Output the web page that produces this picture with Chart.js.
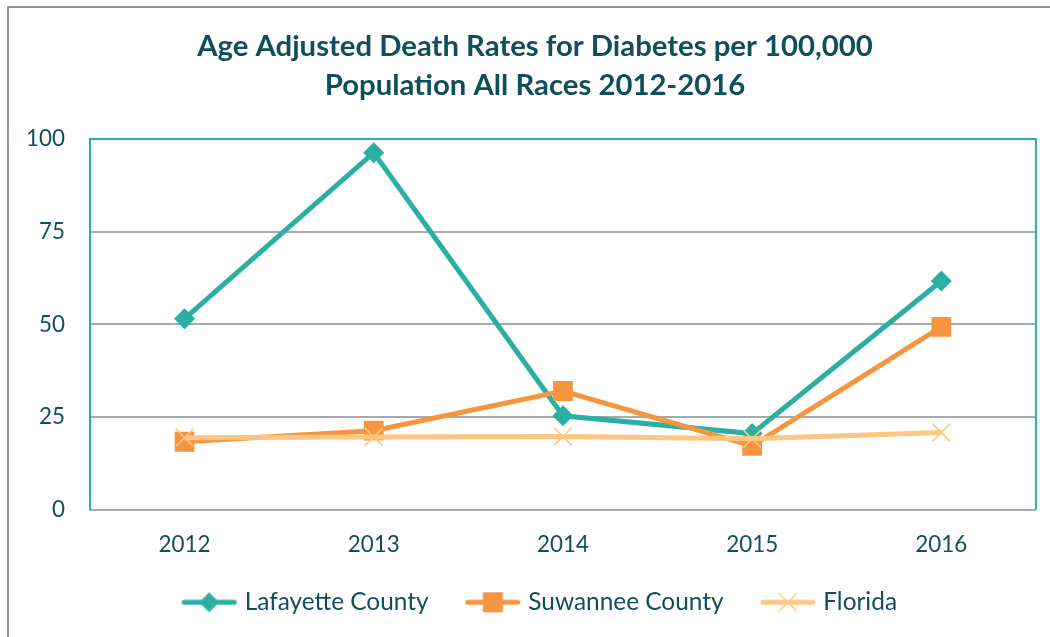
<!DOCTYPE html>
<html><head><meta charset="utf-8">
<script src="https://cdn.jsdelivr.net/npm/chart.js@4.4.0/dist/chart.umd.min.js"></script>
<style>
html,body{margin:0;padding:0;background:#fff;}
#wrap{position:relative;width:1050px;height:637px;overflow:hidden;background:#fff;}
#frame{position:absolute;left:7px;top:6px;width:1100px;height:700px;border:2px solid #87939a;box-sizing:border-box;}
canvas{position:absolute;left:0;top:0;}
</style></head><body>
<div id="wrap"><div id="frame"></div><canvas id="c" width="1050" height="637"></canvas></div>
<script>
// ---- data ----
const categories = ['2012', '2013', '2014', '2015', '2016'];
const lafayette = [51.5, 96.3, 25.3, 20.5, 61.7];
const suwannee = [18.3, 21.3, 32.0, 17.2, 49.3];
const florida = [19.4, 19.6, 19.7, 19.1, 20.8];
const seriesNames = ['Lafayette County', 'Suwannee County', 'Florida'];
const yTickValues = [0, 25, 50, 75, 100];
const titleLines = ['Age Adjusted Death Rates for Diabetes per 100,000', 'Population All Races 2012-2016'];

// ---- styles ----
const FONT = 'Lato';
const TEXT = '#0f4f5b';
const TEAL = '#2bafa2';
const ORANGE = '#f6953f';
const LIGHT = '#fdc682';
const GRID = '#a3abae';

const mctx = document.createElement('canvas').getContext('2d');
function fitSize(text, target, weight) {
  mctx.font = weight + ' 100px ' + FONT;
  return 100 * target / mctx.measureText(text).width;
}
const titleSize = fitSize(titleLines[0], 676, 'bold');
const tickSize = fitSize('2012', 52, 'normal');
const legendSize = fitSize(seriesNames[0], 184, 'normal');

// legend symbols (line + marker)
const B = 59.5;
const LP = 28;
function makeSymbol(color, style) {
  const W = Math.round(B + 16), H = 30;
  const cv = document.createElement('canvas');
  cv.width = W; cv.height = H;
  const c = cv.getContext('2d');
  const right = B + 5 + 8, left = right - 56, cy = H / 2, cx = (left + right) / 2;
  c.strokeStyle = color; c.lineWidth = 5; c.lineCap = 'round';
  c.beginPath(); c.moveTo(left + 3, cy); c.lineTo(right - 3, cy); c.stroke();
  c.fillStyle = color;
  if (style === 'diamond') {
    c.beginPath(); c.moveTo(cx, cy - 10); c.lineTo(cx + 10, cy); c.lineTo(cx, cy + 10); c.lineTo(cx - 10, cy); c.closePath(); c.fill();
  } else if (style === 'square') {
    c.fillRect(cx - 10, cy - 10, 20, 20);
  } else {
    c.lineWidth = 1.6; c.lineCap = 'butt';
    c.beginPath(); c.moveTo(cx - 9, cy - 9); c.lineTo(cx + 9, cy + 9); c.moveTo(cx + 9, cy - 9); c.lineTo(cx - 9, cy + 9); c.stroke();
  }
  return cv;
}
const symbols = [makeSymbol(TEAL, 'diamond'), makeSymbol(ORANGE, 'square'), makeSymbol(LIGHT, 'cross')];

const framePlugin = {
  id: 'plotFrame',
  beforeDraw(chart) {
    // let the y tick labels extend left of the axis box
    const y = chart.scales.y;
    if (y) y._computeLabelArea = () => undefined;
  },
  beforeDatasetsDraw(chart) {
    const a = chart.chartArea, c = chart.ctx;
    c.save();
    c.strokeStyle = TEAL; c.lineWidth = 2;
    c.beginPath();
    c.moveTo(a.left, a.bottom); c.lineTo(a.left, a.top); c.lineTo(a.right, a.top); c.lineTo(a.right, a.bottom);
    c.stroke();
    c.restore();
  }
};

new Chart(document.getElementById('c'), {
  type: 'line',
  data: {
    labels: categories,
    datasets: [
      { label: seriesNames[0], data: lafayette, borderColor: TEAL, backgroundColor: TEAL,
        borderWidth: 5, pointStyle: 'rectRot', pointRadius: 10.5, pointHoverRadius: 10.5, pointBorderWidth: 0, order: 2 },
      { label: seriesNames[1], data: suwannee, borderColor: ORANGE, backgroundColor: ORANGE,
        borderWidth: 5, pointStyle: 'rect', pointRadius: 14, pointHoverRadius: 14, pointBorderWidth: 0, order: 1 },
      { label: seriesNames[2], data: florida, borderColor: LIGHT, backgroundColor: LIGHT,
        borderWidth: 5, pointStyle: 'crossRot', pointRadius: 12.5, pointHoverRadius: 12.5, pointBorderWidth: 1.6, pointBorderColor: LIGHT, order: 0 }
    ]
  },
  options: {
    responsive: false,
    animation: false,
    devicePixelRatio: 1,
    layout: { padding: { left: 34, right: 14, top: 27.5, bottom: 12.5 } },
    plugins: {
      tooltip: { enabled: false },
      title: {
        display: true,
        text: titleLines,
        color: TEXT,
        font: { family: FONT, size: titleSize, weight: 'bold', lineHeight: 39 / titleSize },
        padding: { top: 0, bottom: 33.5 }
      },
      legend: {
        position: 'bottom',
        labels: {
          usePointStyle: true,
          pointStyleWidth: B,
          padding: LP,
          color: TEXT,
          font: { family: FONT, size: legendSize },
          generateLabels(chart) {
            return seriesNames.map((n, i) => ({
              text: n, pointStyle: symbols[i], fillStyle: 'transparent', strokeStyle: 'transparent',
              lineWidth: 0, hidden: false, datasetIndex: i, fontColor: TEXT
            }));
          }
        }
      }
    },
    scales: {
      x: {
        offset: true,
        grid: { display: false, drawTicks: false },
        border: { display: true, color: GRID, width: 2 },
        ticks: { color: TEXT, font: { family: FONT, size: tickSize }, padding: 22, maxRotation: 0 },
        afterFit(s) { s.height = 52.5; }
      },
      y: {
        min: 0, max: 100,
        afterBuildTicks(s) { s.ticks = yTickValues.map(v => ({ value: v })); },
        grid: { color: GRID, lineWidth: 2, drawTicks: false },
        border: { display: false },
        ticks: { color: TEXT, font: { family: FONT, size: tickSize }, padding: 25 },
        afterFit(s) { s.width = 56; }
      }
    }
  },
  plugins: [framePlugin]
});
</script>
</body></html>
